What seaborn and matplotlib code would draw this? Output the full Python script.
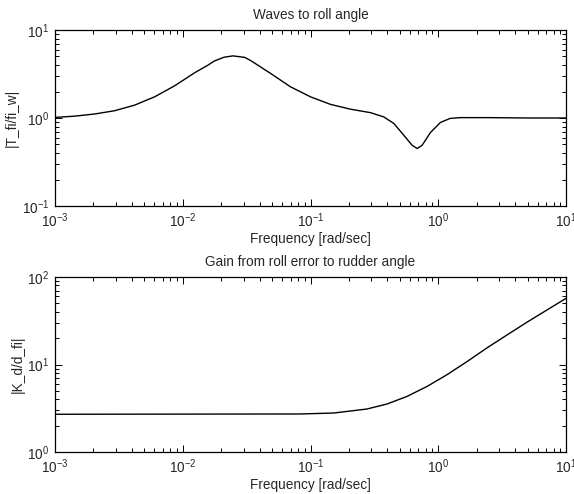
import numpy as np
import pandas as pd
import matplotlib
matplotlib.use("Agg")
import matplotlib.pyplot as plt
import seaborn as sns

# Data
freq_top = [0.001, 0.00143, 0.00204, 0.00293, 0.0042, 0.00602, 0.00863, 0.0124,
            0.0156, 0.0177, 0.0210, 0.0247, 0.0305, 0.034, 0.0487, 0.0698, 0.1,
            0.143, 0.205, 0.295, 0.374, 0.449, 0.537, 0.624, 0.684, 0.748, 0.869,
            1.04, 1.24, 1.49, 2.5, 5.0, 10.0]
mag_top = [1.015, 1.05, 1.11, 1.21, 1.40, 1.74, 2.32, 3.27,
           3.95, 4.45, 4.90, 5.08, 4.89, 4.5, 3.21, 2.26, 1.74,
           1.43, 1.26, 1.15, 1.03, 0.867, 0.638, 0.49, 0.45, 0.49, 0.684,
           0.89, 0.99, 1.01, 1.01, 1.0, 1.0]

freq_bot = [0.001, 0.01, 0.0836, 0.152, 0.277, 0.398, 0.57, 0.818, 1.17, 1.68,
            2.41, 3.46, 4.96, 7.1, 10.0]
mag_bot = [2.70, 2.71, 2.72, 2.79, 3.10, 3.54, 4.32, 5.62, 7.64, 10.8,
           15.5, 21.8, 30.5, 42.0, 57.0]

titles = ["Waves to roll angle", "Gain from roll error to rudder angle"]
ylabels = ["|T_fi/fi_w|", "|K_d/d_fi|"]
xlabel = "Frequency [rad/sec]"
xlim = (1e-3, 10)
ylims = [(0.1, 10), (1, 100)]

sns.set_style("ticks")
plt.rcParams["font.family"] = ["Liberation Sans", "DejaVu Sans"]
plt.rcParams["mathtext.fontset"] = "custom"
plt.rcParams["mathtext.rm"] = "Liberation Sans"
plt.rcParams["mathtext.it"] = "Liberation Sans:italic"
plt.rcParams["font.size"] = 9.8
plt.rcParams["xtick.direction"] = "in"
plt.rcParams["ytick.direction"] = "in"

fig = plt.figure(figsize=(5.74, 4.94), dpi=100)
axes = [fig.add_axes([55/574, 1-206/494, 511/574, 176/494]),
        fig.add_axes([55/574, 1-452/494, 511/574, 175/494])]

datasets = [(freq_top, mag_top), (freq_bot, mag_bot)]
for ax, (f, m), t, yl, ylim in zip(axes, datasets, titles, ylabels, ylims):
    df = pd.DataFrame({"f": f, "m": m})
    sns.lineplot(data=df, x="f", y="m", ax=ax, color="black", linewidth=1.0,
                 estimator=None, sort=False)
    ax.set_xscale("log")
    ax.set_yscale("log")
    ax.set_xlim(*xlim)
    ax.set_ylim(*ylim)
    ax.set_title(t, fontsize=9.8, pad=8)
    ax.set_xlabel(xlabel, fontsize=9.8, labelpad=1)
    ax.set_ylabel(yl, fontsize=9.8, labelpad=2)
    ax.xaxis.set_minor_locator(matplotlib.ticker.LogLocator(base=10, subs=np.arange(2, 10), numticks=20))
    ax.yaxis.set_minor_locator(matplotlib.ticker.LogLocator(base=10, subs=np.arange(2, 10), numticks=20))
    ax.xaxis.set_minor_formatter(matplotlib.ticker.NullFormatter())
    ax.yaxis.set_minor_formatter(matplotlib.ticker.NullFormatter())
    ax.tick_params(which="both", direction="in", top=True, right=True,
                   bottom=True, left=True,
                   labelsize=9.8, color="black", width=0.7)
    ax.tick_params(which="major", length=5, pad=4)
    ax.tick_params(which="minor", length=3)
    for s in ax.spines.values():
        s.set_visible(True)
        s.set_color("black")
        s.set_linewidth(0.9)
    ax.grid(False)

fig.savefig("out.png", dpi=100, facecolor="white")
